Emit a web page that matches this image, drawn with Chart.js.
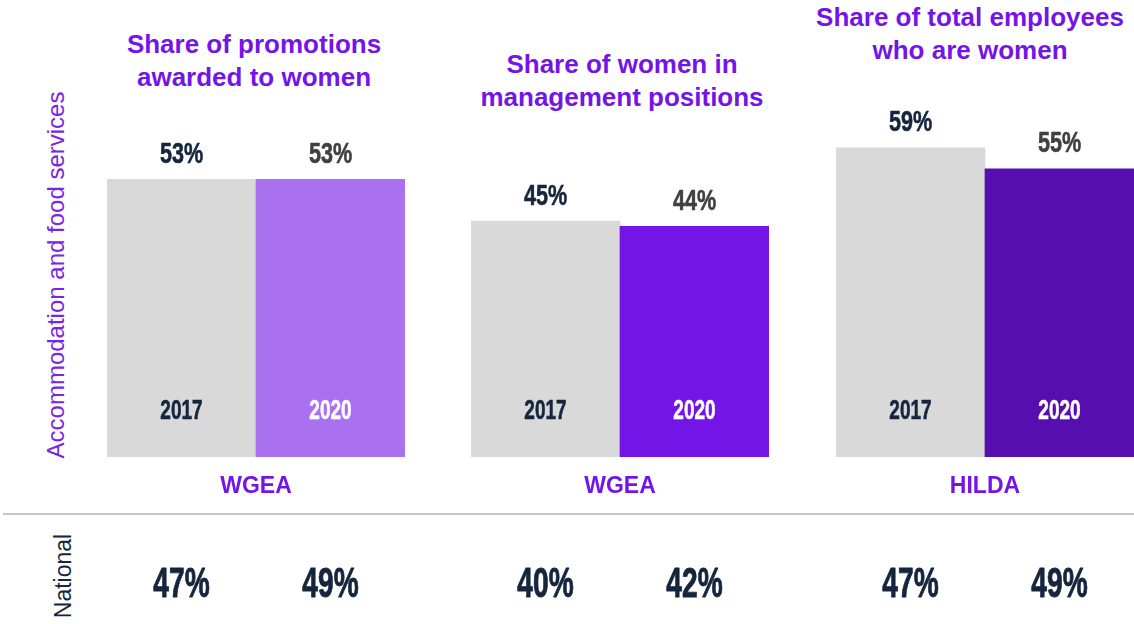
<!DOCTYPE html>
<html>
<head>
<meta charset="utf-8">
<script src="https://cdn.jsdelivr.net/npm/chart.js@4/dist/chart.umd.min.js"></script>
<style>
  body { margin: 0; background: #fff; }
  #page { position: relative; width: 1134px; height: 624px; overflow: hidden; font-family: "Liberation Sans", Arial, sans-serif; }
  .panel { position: absolute; top: 0; }
  .title { position: absolute; width: 400px; text-align: center; font-weight: bold; font-size: 26px; line-height: 33px; color: #7415E8; }
  .side { position: absolute; transform: translate(-50%, -50%) rotate(-90deg); white-space: nowrap; }
  #divider { position: absolute; left: 3px; top: 513px; width: 1131px; height: 2px; background: #C4C4C4; }
</style>
</head>
<body>
<div id="page">
  <div class="side" style="left:56px; top:275px; font-size:24px; color:#7A25E6;">Accommodation and food services</div>
  <div class="side" style="left:63px; top:576px; font-size:23px; color:#14253D;">National</div>
  <div id="divider"></div>
</div>
<script>
// values per panel, in percent
const titles = [
    ['Share of promotions', 'awarded to women'],
    ['Share of women in', 'management positions'],
    ['Share of total employees', 'who are women']
];
const years = ['2017', '2020'];
const industry2017 = [53, 45, 59];
const industry2020 = [53, 44, 55];
const national2017 = [47, 40, 47];
const national2020 = [49, 42, 49];
const sources = ['WGEA', 'WGEA', 'HILDA'];

// layout / styling for each panel
const panelLeft = [107, 471, 836];
const panelWidth = 298;
const titleCenter = [254, 622, 970];
const titleTop = [28, 48, 1];
const color2020 = ['#A970F0', '#7415E8', '#560FAE'];
const gray = '#D9D9D9';
const navy = '#14253D';
const purple = '#7415E8';

// squeezed, slightly heavier bold text for the numbers
function narrowText(ctx, text, x, y, size, sx, color, weight) {
    ctx.save();
    ctx.translate(x, y + 0.358 * size);
    ctx.scale(sx, 1);
    ctx.font = 'bold ' + size + 'px "Liberation Sans Narrow", "Arial Narrow", sans-serif';
    ctx.textAlign = 'center';
    ctx.textBaseline = 'alphabetic';
    ctx.fillStyle = color;
    ctx.strokeStyle = color;
    ctx.lineWidth = weight;
    ctx.lineJoin = 'round';
    ctx.fillText(text, 0, 0);
    ctx.strokeText(text, 0, 0);
    ctx.restore();
}

// value above each bar, year inside it, source + national figure underneath
const barLabels = {
    id: 'barLabels',
    afterDatasetsDraw(chart, args, opts) {
        const ctx = chart.ctx;
        const area = chart.chartArea;
        const values = chart.data.datasets[0].data;
        chart.getDatasetMeta(0).data.forEach((bar, j) => {
            narrowText(ctx, values[j] + '%', bar.x, bar.y - 27, 30, 0.72, j === 0 ? navy : '#404040', 0.6);
            narrowText(ctx, chart.data.labels[j], bar.x, area.bottom - 48, 28, 0.68, j === 0 ? navy : '#FFFFFF', 0.6);
            narrowText(ctx, opts.national[j] + '%', bar.x, area.bottom + 125, 42, 0.67, navy, 0.9);
        });
        ctx.save();
        ctx.font = 'bold 23px "Liberation Sans", Arial, sans-serif';
        ctx.fillStyle = purple;
        ctx.textAlign = 'center';
        ctx.textBaseline = 'alphabetic';
        ctx.fillText(opts.source, (area.left + area.right) / 2, area.bottom + 36);
        ctx.restore();
    }
};

const page = document.getElementById('page');

titles.forEach((lines, i) => {
    const t = document.createElement('div');
    t.className = 'title';
    t.style.left = (titleCenter[i] - 200) + 'px';
    t.style.top = titleTop[i] + 'px';
    t.innerHTML = lines.join('<br>');
    page.appendChild(t);

    const canvas = document.createElement('canvas');
    canvas.className = 'panel';
    canvas.width = panelWidth;
    canvas.height = 624;
    canvas.style.left = panelLeft[i] + 'px';
    page.appendChild(canvas);

    new Chart(canvas.getContext('2d'), {
        type: 'bar',
        data: {
            labels: years,
            datasets: [{
                data: [industry2017[i], industry2020[i]],
                backgroundColor: [gray, color2020[i]],
                borderWidth: 0,
                barPercentage: 1,
                categoryPercentage: 1
            }]
        },
        options: {
            responsive: false,
            animation: false,
            layout: { padding: { top: 1, bottom: 167, left: 0, right: 0 } },
            scales: {
                x: { display: false },
                y: { display: false, min: 0, max: 87 }
            },
            plugins: {
                legend: { display: false },
                tooltip: { enabled: false },
                barLabels: { national: [national2017[i], national2020[i]], source: sources[i] }
            }
        },
        plugins: [barLabels]
    });
});
</script>
</body>
</html>
